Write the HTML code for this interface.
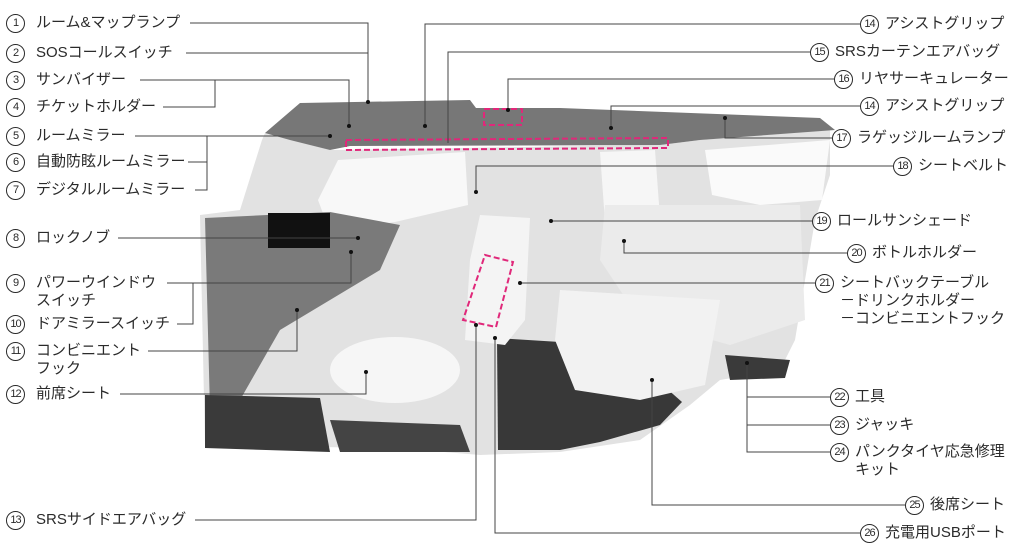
<!DOCTYPE html>
<html><head><meta charset="utf-8">
<style>
html,body{margin:0;padding:0;background:#fff;}
#c{position:relative;width:1018px;height:551px;overflow:hidden;font-family:"Liberation Sans","Noto Sans CJK JP",sans-serif;color:#2a2a2a;}
.l,.r{position:absolute;font-size:15px;line-height:18px;white-space:nowrap;}
.l{padding-left:30px;}
.r{padding-left:25px;}
i{position:absolute;left:0;top:0;font-style:normal;box-sizing:border-box;width:19px;height:19px;border:1.5px solid #2a2a2a;border-radius:50%;text-align:center;font-size:11px;line-height:16px;letter-spacing:-1px;}
svg{position:absolute;left:0;top:0;}
</style></head><body><div id="c">
<svg width="1018" height="551" viewBox="0 0 1018 551">
<polygon points="265,133 330,150 660,145 700,140 830,130 830,175 815,220 805,280 795,340 780,370 720,380 690,405 640,440 560,452 480,455 420,450 380,448 205,445 200,215 240,210 262,140" fill="#e2e2e2"/>
<polygon points="265,133 300,103 470,100 476,108 560,108 820,118 835,130 700,140 660,145 350,146 330,150 290,140" fill="#777"/>
<polygon points="338,160 465,152 468,205 395,222 330,232 318,200" fill="#f8f8f8"/>
<polygon points="600,152 655,150 660,218 605,222" fill="#f6f6f6"/>
<polygon points="705,150 830,140 822,200 760,205 712,195" fill="#fafafa"/>
<polygon points="205,218 330,212 400,225 380,270 330,300 280,330 240,400 210,410" fill="#7a7a7a"/>
<rect x="268" y="213" width="62" height="35" fill="#111"/>
<polygon points="205,395 320,398 330,452 205,448" fill="#3a3a3a"/>
<polygon points="330,420 460,425 470,452 340,452" fill="#444"/>
<polygon points="497,338 560,342 640,365 682,402 660,425 600,442 560,450 498,450" fill="#383838"/>
<polygon points="725,355 790,360 785,378 730,380" fill="#3a3a3a"/>
<ellipse cx="395" cy="370" rx="65" ry="33" fill="#f6f6f6"/>
<polygon points="480,215 530,218 525,320 505,345 465,340 470,260" fill="#f4f4f4"/>
<polygon points="605,205 800,205 805,320 730,345 640,320 600,260" fill="#ebebeb"/>
<polygon points="560,290 720,300 705,385 640,400 575,390 555,340" fill="#f2f2f2"/>
<g fill="none" stroke="#e0287a" stroke-width="2" stroke-dasharray="6,3">
<polygon points="346,140 668,138 668,148 346,150"/>
<rect x="484" y="109" width="38" height="16"/>
<polygon points="485,255 513,262 496,327 463,320"/>
</g>
<g stroke="#444" stroke-width="1" fill="none">
<path d="M190,23H368V102"/><path d="M186,53H368"/>
<path d="M140,80H349V126"/><path d="M163,107H215V80"/>
<path d="M135,136H330"/><path d="M188,162H207"/><path d="M195,190H207V136"/>
<path d="M118,238H358"/>
<path d="M167,283H351V252"/><path d="M177,324H193V283"/>
<path d="M148,351H297V310"/>
<path d="M120,394H366V372"/>
<path d="M195,520H476V325"/>
<path d="M860,24H425V126"/>
<path d="M810,52H448V143"/>
<path d="M834,79H508V110"/>
<path d="M860,106H611V128"/>
<path d="M832,138H725V118"/>
<path d="M893,166H476V192"/>
<path d="M812,221H551"/>
<path d="M847,253H624V241"/>
<path d="M815,283H520"/>
<path d="M830,397H747V363"/><path d="M830,425H747"/><path d="M830,452H747V397"/>
<path d="M905,505H652V380"/>
<path d="M860,533H495V338"/>
</g>
<g fill="#111">
<circle cx="368" cy="102" r="2"/><circle cx="349" cy="126" r="2"/><circle cx="330" cy="136" r="2"/>
<circle cx="358" cy="238" r="2"/><circle cx="351" cy="252" r="2"/><circle cx="297" cy="310" r="2"/>
<circle cx="366" cy="372" r="2"/><circle cx="476" cy="325" r="2"/><circle cx="425" cy="126" r="2"/>
<circle cx="508" cy="110" r="2"/><circle cx="611" cy="128" r="2"/><circle cx="725" cy="118" r="2"/>
<circle cx="476" cy="192" r="2"/><circle cx="551" cy="221" r="2"/><circle cx="624" cy="241" r="2"/>
<circle cx="520" cy="283" r="2"/><circle cx="747" cy="363" r="2"/><circle cx="652" cy="380" r="2"/>
<circle cx="495" cy="338" r="2"/>
</g>
</svg>
<div class="l" style="left:6px;top:14px"><i>1</i>ルーム&amp;マップランプ</div>
<div class="l" style="left:6px;top:44px"><i>2</i>SOSコールスイッチ</div>
<div class="l" style="left:6px;top:71px"><i>3</i>サンバイザー</div>
<div class="l" style="left:6px;top:98px"><i>4</i>チケットホルダー</div>
<div class="l" style="left:6px;top:127px"><i>5</i>ルームミラー</div>
<div class="l" style="left:6px;top:153px"><i>6</i>自動防眩ルームミラー</div>
<div class="l" style="left:6px;top:181px"><i>7</i>デジタルルームミラー</div>
<div class="l" style="left:6px;top:229px"><i>8</i>ロックノブ</div>
<div class="l" style="left:6px;top:274px"><i>9</i>パワーウインドウ<br>スイッチ</div>
<div class="l" style="left:6px;top:315px"><i>10</i>ドアミラースイッチ</div>
<div class="l" style="left:6px;top:342px"><i>11</i>コンビニエント<br>フック</div>
<div class="l" style="left:6px;top:385px"><i>12</i>前席シート</div>
<div class="l" style="left:6px;top:511px"><i>13</i>SRSサイドエアバッグ</div>
<div class="r" style="left:860px;top:15px"><i>14</i>アシストグリップ</div>
<div class="r" style="left:810px;top:43px"><i>15</i>SRSカーテンエアバッグ</div>
<div class="r" style="left:834px;top:70px"><i>16</i>リヤサーキュレーター</div>
<div class="r" style="left:860px;top:97px"><i>14</i>アシストグリップ</div>
<div class="r" style="left:832px;top:129px"><i>17</i>ラゲッジルームランプ</div>
<div class="r" style="left:893px;top:157px"><i>18</i>シートベルト</div>
<div class="r" style="left:812px;top:212px"><i>19</i>ロールサンシェード</div>
<div class="r" style="left:847px;top:244px"><i>20</i>ボトルホルダー</div>
<div class="r" style="left:815px;top:274px"><i>21</i>シートバックテーブル<br>－ドリンクホルダー<br>－コンビニエントフック</div>
<div class="r" style="left:830px;top:388px"><i>22</i>工具</div>
<div class="r" style="left:830px;top:416px"><i>23</i>ジャッキ</div>
<div class="r" style="left:830px;top:443px"><i>24</i>パンクタイヤ応急修理<br>キット</div>
<div class="r" style="left:905px;top:496px"><i>25</i>後席シート</div>
<div class="r" style="left:860px;top:524px"><i>26</i>充電用USBポート</div>
</div></body></html>
